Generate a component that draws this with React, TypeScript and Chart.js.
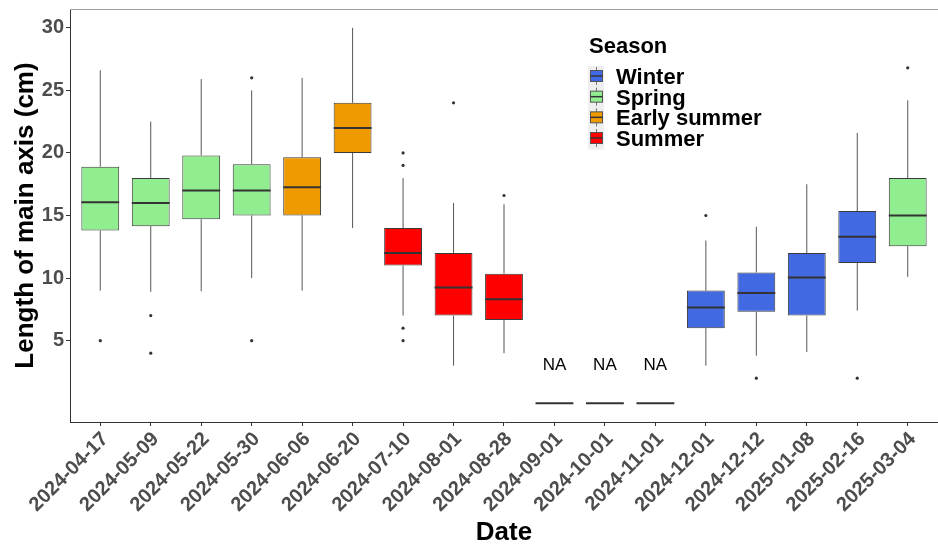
import React, { useEffect, useRef } from "react";
import { Chart, registerables } from "chart.js";

Chart.register(...registerables);

// ---------------- data ----------------
const dates = [
  "2024-04-17", "2024-05-09", "2024-05-22", "2024-05-30", "2024-06-06",
  "2024-06-20", "2024-07-10", "2024-08-01", "2024-08-28", "2024-09-01",
  "2024-10-01", "2024-11-01", "2024-12-01", "2024-12-12", "2025-01-08",
  "2025-02-16", "2025-03-04",
];
const seasonOf = [
  "Spring", "Spring", "Spring", "Spring", "Early summer",
  "Early summer", "Summer", "Summer", "Summer", null,
  null, null, "Winter", "Winter", "Winter",
  "Winter", "Spring",
];
const lowerWhisker = [9, 8.9, 8.95, 10, 9, 14, 7, 3, 4, null, null, null, 3, 3.8, 4.1, 7.4, 10.1];
const q1 = [13.8, 14.15, 14.7, 15, 15, 20, 11, 7, 6.65, null, null, null, 6, 7.3, 7, 11.2, 12.55];
const medians = [16.05, 16, 17, 17, 17.25, 22, 12, 9.25, 8.3, 0, 0, 0, 7.65, 8.8, 10.05, 13.3, 15];
const q3 = [18.9, 18, 19.8, 19.1, 19.65, 24, 14, 12, 10.35, null, null, null, 9, 10.45, 12, 15.35, 18];
const upperWhisker = [26.6, 22.5, 25.9, 25, 26, 30, 18, 16, 15.9, null, null, null, 13, 14.1, 17.5, 21.6, 24.2];
const outliers = [[5], [7, 4], [], [26, 5], [], [], [20, 19, 6, 5], [24], [16.6], [], [], [], [15], [2], [], [2], [26.8]];
const naText = "NA";
const naTextValue = 3;
const yTicks = [5, 10, 15, 20, 25, 30];
const seasonOrder = ["Winter", "Spring", "Early summer", "Summer"];
const seasonColors = ["#4169E1", "#90EE90", "#EE9A00", "#FF0000"];
const legendTitle = "Season";
const xTitle = "Date";
const yTitle = "Length of main axis (cm)";

const FONT = "'Liberation Sans', Arial, sans-serif";
const colorOf = (s: string | null) => (s ? seasonColors[seasonOrder.indexOf(s)] : "#ffffff");

const boxIdx = dates.map((_, i) => i).filter((i) => q1[i] != null);

const boxPlugin = {
  id: "boxExtras",
  beforeDatasetsDraw(chart: any) {
    const { ctx, scales } = chart;
    const x = scales.x, y = scales.y;
    ctx.save();
    // top panel line
    ctx.strokeStyle = "#a0a0a0";
    ctx.lineWidth = 1;
    ctx.beginPath();
    ctx.moveTo(x.left, y.top + 0.5);
    ctx.lineTo(x.right, y.top + 0.5);
    ctx.stroke();
    // whiskers
    ctx.strokeStyle = "#555555";
    ctx.lineWidth = 1;
    boxIdx.forEach((i) => {
      const px = x.getPixelForValue(i);
      ctx.beginPath();
      ctx.moveTo(px, y.getPixelForValue(q3[i] as number));
      ctx.lineTo(px, y.getPixelForValue(upperWhisker[i] as number));
      ctx.moveTo(px, y.getPixelForValue(q1[i] as number));
      ctx.lineTo(px, y.getPixelForValue(lowerWhisker[i] as number));
      ctx.stroke();
    });
    ctx.restore();
  },
  afterDatasetsDraw(chart: any) {
    const { ctx, scales } = chart;
    const x = scales.x, y = scales.y;
    const meta = chart.getDatasetMeta(0);
    const w = meta.data[0].width;
    ctx.save();
    // medians
    ctx.strokeStyle = "#333333";
    ctx.lineWidth = 2;
    medians.forEach((m, i) => {
      const px = x.getPixelForValue(i);
      const py = y.getPixelForValue(m);
      ctx.beginPath();
      ctx.moveTo(px - w / 2, py);
      ctx.lineTo(px + w / 2, py);
      ctx.stroke();
    });
    // outliers
    ctx.fillStyle = "#333333";
    outliers.forEach((arr, i) => {
      arr.forEach((v) => {
        ctx.beginPath();
        ctx.arc(x.getPixelForValue(i), y.getPixelForValue(v), 1.6, 0, Math.PI * 2);
        ctx.fill();
      });
    });
    // NA labels
    ctx.fillStyle = "#000000";
    ctx.font = `17px ${FONT}`;
    ctx.textAlign = "center";
    ctx.textBaseline = "middle";
    dates.forEach((_, i) => {
      if (q1[i] == null) {
        ctx.fillText(naText, x.getPixelForValue(i), y.getPixelForValue(naTextValue));
      }
    });
    ctx.restore();
  },
  afterDraw(chart: any) {
    const { ctx } = chart;
    ctx.save();
    ctx.fillStyle = "#000000";
    ctx.textAlign = "left";
    ctx.textBaseline = "alphabetic";
    ctx.font = `bold 22px ${FONT}`;
    ctx.fillText(legendTitle, 589, 53);
    const step = 20.67;
    const y0 = 76;
    ctx.fillStyle = "#EFEFEF";
    ctx.fillRect(588, y0 - 10, 16, step * seasonOrder.length + 1);
    seasonOrder.forEach((s, k) => {
      const cy = y0 + k * step;
      ctx.strokeStyle = "#777777";
      ctx.lineWidth = 1;
      ctx.beginPath();
      ctx.moveTo(596.5, cy - 9);
      ctx.lineTo(596.5, cy + 9);
      ctx.stroke();
      ctx.fillStyle = seasonColors[k];
      ctx.fillRect(590.5, cy - 5.5, 12, 11);
      ctx.strokeStyle = "#555555";
      ctx.strokeRect(590.5, cy - 5.5, 12, 11);
      ctx.strokeStyle = "#333333";
      ctx.lineWidth = 1.5;
      ctx.beginPath();
      ctx.moveTo(590.5, cy);
      ctx.lineTo(602.5, cy);
      ctx.stroke();
      ctx.fillStyle = "#000000";
      ctx.font = `bold 22px ${FONT}`;
      ctx.fillText(s, 616, cy + 8);
    });
    ctx.restore();
  },
};

export default function App() {
  const ref = useRef<HTMLCanvasElement | null>(null);
  useEffect(() => {
    if (!ref.current) return;
    const tickFont = { family: FONT, size: 20, weight: "bold" as const, lineHeight: 1 };
    const chart = new Chart(ref.current, {
      type: "bar",
      data: {
        datasets: [
          {
            type: "bar",
            data: boxIdx.map((i) => ({ x: i, y: [q1[i], q3[i]] })) as any,
            backgroundColor: boxIdx.map((i) => colorOf(seasonOf[i])),
            borderColor: "#3a3a3a",
            borderWidth: 1,
            borderSkipped: false,
            barPercentage: 0.75,
            categoryPercentage: 1,
          } as any,
        ],
      },
      options: {
        responsive: false,
        animation: false,
        devicePixelRatio: 1,
        layout: { padding: { top: 9, right: 0, left: 0, bottom: 0 } },
        plugins: { legend: { display: false }, tooltip: { enabled: false } },
        scales: {
          x: {
            type: "linear",
            offset: false,
            min: -0.6,
            max: dates.length - 1 + 0.6,
            afterBuildTicks: (s: any) => {
              s.ticks = dates.map((_, i) => ({ value: i }));
            },
            afterFit: (s: any) => {
              s.height = 122;
              s.paddingLeft = 0;
              s.paddingRight = 0;
            },
            ticks: {
              callback: (v: any) => dates[v] ?? "",
              autoSkip: false,
              minRotation: 45,
              maxRotation: 45,
              padding: 3,
              labelOffset: 5,
              color: "#4D4D4D",
              font: tickFont,
            },
            grid: { display: true, offset: false, drawOnChartArea: false, drawTicks: true, tickLength: 4, color: "#333333" },
            border: { display: true, color: "#333333", width: 1 },
            title: {
              display: true,
              text: xTitle,
              color: "#000000",
              font: { family: FONT, size: 26, weight: "bold", lineHeight: 0.8 },
              padding: { top: 0, bottom: 1 },
            },
          },
          y: {
            type: "linear",
            min: -1.5,
            max: 31.5,
            afterBuildTicks: (s: any) => {
              s.ticks = yTicks.map((v) => ({ value: v }));
            },
            afterFit: (s: any) => {
              s.width = 70;
              s.paddingTop = 0;
              s.paddingBottom = 0;
            },
            ticks: { color: "#4D4D4D", font: tickFont, padding: 2 },
            grid: { display: true, drawOnChartArea: false, drawTicks: true, tickLength: 4, color: "#333333" },
            border: { display: true, color: "#333333", width: 1 },
            title: {
              display: true,
              text: yTitle,
              color: "#000000",
              font: { family: FONT, size: 26, weight: "bold", lineHeight: 1 },
              padding: { top: 13, bottom: 0 },
            },
          },
        },
      } as any,
      plugins: [boxPlugin],
    });
    return () => chart.destroy();
  }, []);
  return (
    <div style={{ position: "absolute", left: 0, top: 0, width: 938, height: 544, background: "#fff" }}>
      <canvas ref={ref} width={938} height={544} style={{ display: "block", width: 938, height: 544 }} />
    </div>
  );
}
